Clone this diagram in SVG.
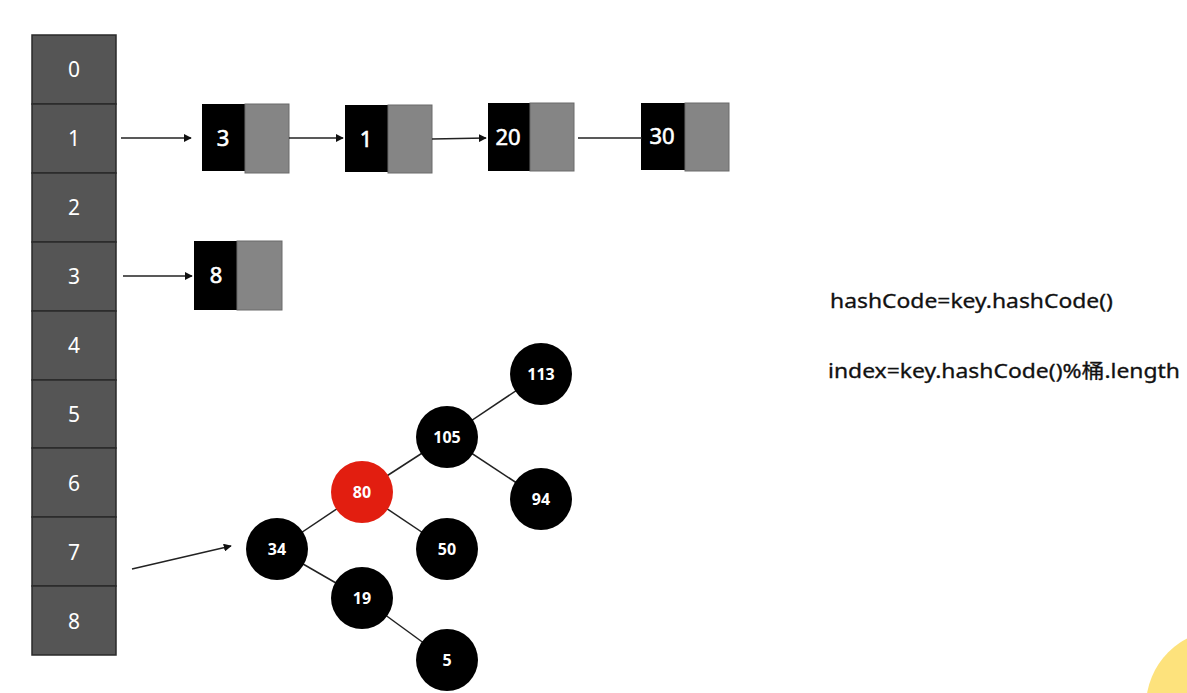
<svg xmlns="http://www.w3.org/2000/svg" width="1187" height="693" viewBox="0 0 1187 693">
<style>
.cell{fill:#555555;stroke:#2a2a2a;stroke-width:1.5}
.idx{fill:#ffffff;font-family:"Noto Sans","DejaVu Sans",sans-serif;font-size:21px;text-anchor:middle}
.blk{fill:#000000}
.gry{fill:#858585;stroke:#6a6a6a;stroke-width:1}
.val{fill:#ffffff;font-family:"Noto Sans","DejaVu Sans",sans-serif;font-size:22px;text-anchor:middle;stroke:#ffffff;stroke-width:0.6}
.tn{fill:#000000}
.tr{fill:#e21e10}
.tv{fill:#ffffff;font-family:"Noto Sans","DejaVu Sans",sans-serif;font-size:16px;font-weight:bold;text-anchor:middle}
.ln{stroke:#222222;stroke-width:1.5;fill:none}
.eq{fill:#111111;font-family:"Noto Sans","Noto Sans CJK SC",sans-serif;font-size:19.5px;stroke:#111111;stroke-width:0.3}
</style>
<defs>
<marker id="ah" viewBox="0 0 10 10" refX="9" refY="5" markerWidth="8" markerHeight="8" markerUnits="userSpaceOnUse" orient="auto">
<path d="M0,0 L10,5 L0,10 z" fill="#111111"/>
</marker>
</defs>
<rect width="1187" height="693" fill="#ffffff"/>
<circle cx="1222" cy="706" r="76" fill="#fde27c"/>
<g id="array">
<rect class="cell" x="32" y="35" width="84" height="69"/>
<rect class="cell" x="32" y="104" width="84" height="69"/>
<rect class="cell" x="32" y="173" width="84" height="69"/>
<rect class="cell" x="32" y="242" width="84" height="69"/>
<rect class="cell" x="32" y="311" width="84" height="69"/>
<rect class="cell" x="32" y="380" width="84" height="68"/>
<rect class="cell" x="32" y="448" width="84" height="69"/>
<rect class="cell" x="32" y="517" width="84" height="69"/>
<rect class="cell" x="32" y="586" width="84" height="69"/>
<text class="idx" x="74" y="77">0</text>
<text class="idx" x="74" y="146">1</text>
<text class="idx" x="74" y="215">2</text>
<text class="idx" x="74" y="284">3</text>
<text class="idx" x="74" y="353">4</text>
<text class="idx" x="74" y="422">5</text>
<text class="idx" x="74" y="491">6</text>
<text class="idx" x="74" y="560">7</text>
<text class="idx" x="74" y="629">8</text>
</g>
<g id="node-3">
<rect class="blk" x="202" y="104" width="43" height="67"/>
<rect class="gry" x="245" y="104" width="44" height="69"/>
<text class="val" x="223" y="146">3</text>
</g>
<g id="node-1">
<rect class="blk" x="345" y="105" width="43" height="67"/>
<rect class="gry" x="388" y="105" width="44" height="68"/>
<text class="val" x="366" y="147">1</text>
</g>
<g id="node-20">
<rect class="blk" x="488" y="103" width="42" height="68"/>
<rect class="gry" x="530" y="103" width="44" height="68"/>
<text class="val" x="508" y="145">20</text>
</g>
<g id="node-30">
<rect class="blk" x="641" y="103" width="44" height="67"/>
<rect class="gry" x="685" y="103" width="44" height="68"/>
<text class="val" x="662" y="144">30</text>
</g>
<g id="node-8">
<rect class="blk" x="194" y="241" width="43" height="69"/>
<rect class="gry" x="237" y="241" width="45" height="69"/>
<text class="val" x="216" y="283">8</text>
</g>
<g id="connectors">
<line class="ln" x1="121" y1="138" x2="191" y2="138" marker-end="url(#ah)"/>
<line class="ln" x1="289" y1="138" x2="343" y2="138" marker-end="url(#ah)"/>
<line class="ln" x1="432" y1="139" x2="486" y2="138" marker-end="url(#ah)"/>
<line class="ln" x1="578" y1="138" x2="642" y2="138"/>
<line class="ln" x1="123" y1="276" x2="192" y2="276" marker-end="url(#ah)"/>
<line class="ln" x1="132" y1="569" x2="231" y2="546" marker-end="url(#ah)"/>
<line class="ln" x1="541" y1="374" x2="447" y2="437"/>
<line class="ln" x1="447" y1="437" x2="362" y2="492"/>
<line class="ln" x1="447" y1="437" x2="541" y2="499"/>
<line class="ln" x1="362" y1="492" x2="277" y2="549"/>
<line class="ln" x1="362" y1="492" x2="447" y2="549"/>
<line class="ln" x1="277" y1="549" x2="362" y2="598"/>
<line class="ln" x1="362" y1="598" x2="447" y2="660"/>
</g>
<g id="t113"><circle class="tn" cx="541" cy="374" r="31"/><text class="tv" x="541" y="380">113</text></g>
<g id="t105"><circle class="tn" cx="447" cy="437" r="31"/><text class="tv" x="447" y="443">105</text></g>
<g id="t80"><circle class="tr" cx="362" cy="492" r="31"/><text class="tv" x="362" y="498">80</text></g>
<g id="t94"><circle class="tn" cx="541" cy="499" r="31"/><text class="tv" x="541" y="505">94</text></g>
<g id="t34"><circle class="tn" cx="277" cy="549" r="31"/><text class="tv" x="277" y="555">34</text></g>
<g id="t50"><circle class="tn" cx="447" cy="549" r="31"/><text class="tv" x="447" y="555">50</text></g>
<g id="t19"><circle class="tn" cx="362" cy="598" r="31"/><text class="tv" x="362" y="604">19</text></g>
<g id="t5"><circle class="tn" cx="447" cy="660" r="31"/><text class="tv" x="447" y="666">5</text></g>
<g id="formulas">
<text class="eq" x="830" y="308" textLength="283" lengthAdjust="spacingAndGlyphs">hashCode=key.hashCode()</text>
<text class="eq" x="828" y="378" textLength="352" lengthAdjust="spacingAndGlyphs">index=key.hashCode()%桶.length</text>
</g>
</svg>
